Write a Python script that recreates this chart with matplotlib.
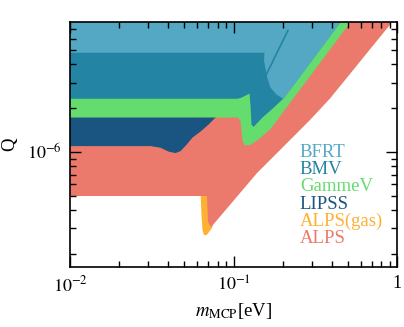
import numpy as np
import matplotlib
matplotlib.use("Agg")
import matplotlib.pyplot as plt
from matplotlib.ticker import LogLocator, NullFormatter

plt.rcParams["font.family"] = ["Liberation Serif", "DejaVu Serif"]
plt.rcParams["mathtext.fontset"] = "stix"

# Ausschlussgrenzen: Masse m (eV) und Ladung Q, Bereich oberhalb der Kurve ist ausgeschlossen
alps_gas_m = [0.005, 0.0628, 0.0637, 0.0646, 0.0660, 0.0684, 0.0708, 0.0739, 0.0782, 0.1096, 1.043]
alps_gas_q = [5.49e-7, 5.49e-7, 3.70e-7, 2.92e-7, 2.70e-7, 2.70e-7, 2.83e-7, 3.02e-7, 3.76e-7, 5.94e-7, 2.42e-5]

alps_m = [0.005, 0.0688, 0.0698, 0.0729, 0.0863, 0.1096, 0.1392, 0.1672, 0.2937, 0.3892, 0.932, 1.043]
alps_q = [5.0e-7, 5.0e-7, 3.31e-7, 3.06e-7, 3.82e-7, 5.24e-7, 7.18e-7, 8.82e-7, 1.66e-6, 2.33e-6, 7.77e-6, 9.1e-6]

lipss_m = [0.005, 0.0309, 0.0355, 0.0398, 0.0439, 0.0471, 0.0512, 0.0557, 0.0624, 0.0698,
           0.0771, 0.0827, 0.1096, 0.2551, 0.3892]
lipss_q = [1.108e-6, 1.108e-6, 1.08e-6, 1.016e-6, 0.992e-6, 1.024e-6, 1.13e-6, 1.267e-6, 1.393e-6, 1.555e-6,
           1.74e-6, 1.88e-6, 2.58e-6, 6.85e-6, 1.1e-5]

gammev_m = [0.005, 0.1050, 0.1096, 0.1127, 0.1159, 0.1262, 0.1412, 0.1672, 0.2312, 0.5017, 0.5307]
gammev_q = [1.74e-6, 1.74e-6, 1.66e-6, 1.21e-6, 1.12e-6, 1.13e-6, 1.23e-6, 1.45e-6, 2.36e-6, 7.53e-6, 8.27e-6]

bmv_m = [0.005, 0.1050, 0.1110, 0.1244, 0.1262, 0.1279, 0.1316, 0.1494, 0.1720, 0.2008, 0.4356, 0.4808]
bmv_q = [2.34e-6, 2.34e-6, 2.38e-6, 2.54e-6, 2.10e-6, 1.555e-6, 1.50e-6, 1.74e-6, 2.00e-6, 2.35e-6, 7.53e-6, 8.68e-6]

bfrt_m = [0.005, 0.1536, 0.1526, 0.1558, 0.1603, 0.1672, 0.1820, 0.2008, 0.4356, 0.4808]
bfrt_q = [4.84e-6, 4.84e-6, 4.27e-6, 3.76e-6, 3.21e-6, 2.79e-6, 2.50e-6, 2.33e-6, 7.49e-6, 8.74e-6]

# schmaler Spalt in der BFRT-Grenze
bfrt_gap_m = [0.1580, 0.2155]
bfrt_gap_q = [3.37e-6, 6.85e-6]

names = ["BFRT", "BMV", "GammeV", "LIPSS", "ALPS(gas)", "ALPS"]
colors = {"BFRT": "#54A8C4", "BMV": "#2384A3", "GammeV": "#64DC6E",
          "LIPSS": "#1A5480", "ALPS(gas)": "#FFB032", "ALPS": "#EC7A6C"}

fig = plt.figure(figsize=(4.04, 3.27), dpi=100)
ax = fig.add_axes([0.1733, 0.1835, 0.8094, 0.7492])

q_top = 1e-4
ax.fill_between(alps_gas_m, alps_gas_q, q_top, color=colors["ALPS(gas)"], lw=0)
ax.fill_between(alps_m, alps_q, q_top, color=colors["ALPS"], lw=0)
ax.fill_between(lipss_m, lipss_q, q_top, color=colors["LIPSS"], lw=0)
ax.fill_between(gammev_m, gammev_q, q_top, color=colors["GammeV"], lw=0)
ax.fill_between(bmv_m, bmv_q, q_top, color=colors["BMV"], lw=0)
ax.fill_between(bfrt_m, bfrt_q, q_top, color=colors["BFRT"], lw=0)
ax.plot(bfrt_gap_m, bfrt_gap_q, color=colors["BMV"], lw=1.2, solid_capstyle="round")

ax.set_xscale("log")
ax.set_yscale("log")
ax.set_xlim(1e-2, 1)
ax.set_ylim(1.63e-7, 7.8e-6)

ax.set_xticks([1e-2, 1e-1, 1], ["$10^{-2}$", "$10^{-1}$", "1"])
ax.set_yticks([1e-6], ["$10^{-6}$"])
ax.xaxis.set_minor_locator(LogLocator(subs=np.arange(2, 10), numticks=12))
ax.yaxis.set_minor_locator(LogLocator(subs=np.arange(2, 10), numticks=12))
ax.xaxis.set_minor_formatter(NullFormatter())
ax.yaxis.set_minor_formatter(NullFormatter())
ax.tick_params(which="both", direction="in", top=True, right=True, width=1.0, labelsize=13)
ax.tick_params(which="major", length=8, pad=6)
ax.tick_params(which="minor", length=4.5)
for s in ax.spines.values():
    s.set_linewidth(1.2)

ax.set_xlabel(r"$m_{\rm MCP}$[eV]", fontsize=13.5, labelpad=4)
ax.set_ylabel("Q", fontsize=13.5, labelpad=6)

# Legende als farbiger Text
for i, name in enumerate(names):
    ax.text(0.703, 0.449 - i * 0.0702, name, color=colors[name], fontsize=13.5,
            transform=ax.transAxes, va="baseline", ha="left")

fig.savefig("out.png", dpi=100)
